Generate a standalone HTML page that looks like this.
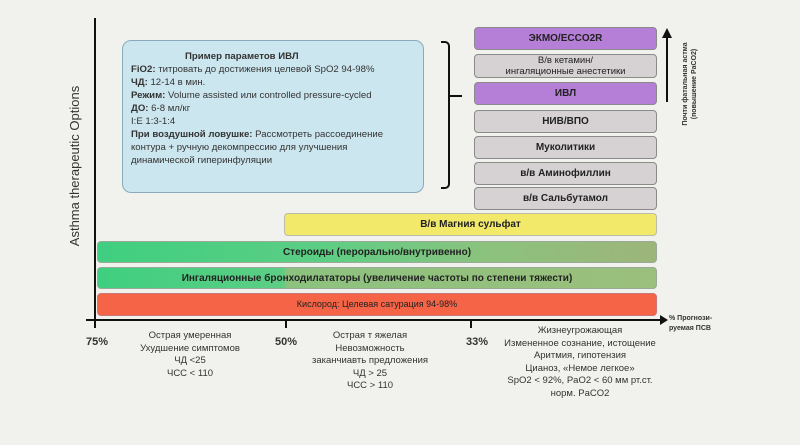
<!DOCTYPE html>
<html><head><meta charset="utf-8"><style>
body{margin:0;width:800px;height:445px;background:#f1f1ed;position:relative;overflow:hidden;font-family:"Liberation Sans","Noto Sans CJK SC",sans-serif;color:#222}
div{position:absolute;box-sizing:border-box}
.b{border:1.5px solid #8a8a8a;border-radius:4px;text-align:center;font-weight:bold;font-size:10px;display:flex;align-items:center;justify-content:center;line-height:11px}
.g{background:#d6d2d4}.p{background:#b57fd8}
.t{font-size:9.5px;text-align:center;line-height:12.5px;color:#333}
</style></head><body>
<div style="left:94px;top:18px;width:2px;height:305px;background:#111"></div>
<div style="left:86px;top:319px;width:576px;height:2px;background:#111"></div>
<div style="left:660px;top:315px;width:0;height:0;border-left:8px solid #111;border-top:5px solid transparent;border-bottom:5px solid transparent"></div>
<div style="left:285px;top:321px;width:2px;height:7px;background:#111"></div>
<div style="left:470px;top:321px;width:2px;height:7px;background:#111"></div>
<div style="left:94px;top:321px;width:2px;height:7px;background:#111"></div>
<div style="left:-30px;top:158px;width:210px;height:16px;transform:rotate(-90deg);font-size:13px;text-align:center;color:#333">Asthma therapeutic Options</div>

<div style="left:122px;top:40px;width:302px;height:153px;background:#cbe6ee;border:1.5px solid #8ab;border-radius:9px;padding:9px 0 0 8px;font-size:9.6px;line-height:13px;color:#333">
<div style="position:static;padding-left:54px;font-weight:bold">Пример параметов ИВЛ</div>
<b>FiO2:</b> титровать до достижения целевой SpO2 94-98%<br>
<b>ЧД:</b> 12-14 в мин.<br>
<b>Режим:</b> Volume assisted или controlled pressure-cycled<br>
<b>ДО:</b> 6-8 мл/кг<br>
I:E 1:3-1:4<br>
<b>При воздушной ловушке:</b> Рассмотреть рассоединение<br>контура + ручную декомпрессию для улучшения<br>динамической гиперинфуляции</div>

<div style="left:441px;top:41px;width:9px;height:148px;border:2px solid #111;border-left:none;border-radius:0 5px 5px 0"></div>
<div style="left:450px;top:95px;width:12px;height:2px;background:#111"></div>

<div class="b p" style="left:474px;top:27px;width:183px;height:23px">ЭКМО/ECCO2R</div>
<div class="b g" style="left:474px;top:54px;width:183px;height:24px;font-weight:normal;font-size:9.5px">В/в кетамин/<br>ингаляционные анестетики</div>
<div class="b p" style="left:474px;top:82px;width:183px;height:23px">ИВЛ</div>
<div class="b g" style="left:474px;top:110px;width:183px;height:23px">НИВ/ВПО</div>
<div class="b g" style="left:474px;top:136px;width:183px;height:23px">Муколитики</div>
<div class="b g" style="left:474px;top:162px;width:183px;height:23px">в/в Аминофиллин</div>
<div class="b g" style="left:474px;top:187px;width:183px;height:23px">в/в Сальбутамол</div>

<div style="left:666px;top:36px;width:2px;height:66px;background:#111"></div>
<div style="left:662px;top:28px;width:0;height:0;border-bottom:10px solid #111;border-left:5px solid transparent;border-right:5px solid transparent"></div>
<div style="left:643px;top:72px;width:100px;height:24px;transform:rotate(-90deg);font-size:7px;line-height:9px;text-align:center;font-weight:bold;color:#333">Почти фатальная астма<br>(повышение PaCO2)</div>

<div class="b" style="left:284px;top:213px;width:373px;height:23px;background:#f2e86a;border-color:#bba">В/в Магния сульфат</div>
<div class="b" style="left:97px;top:241px;width:560px;height:22px;background:linear-gradient(90deg,#3fcf80 0%,#5cce84 40%,#8cc27e 70%,#9db57a 100%);border-color:#9a9">Стероиды (перорально/внутривенно)</div>
<div class="b" style="left:97px;top:267px;width:560px;height:22px;background:linear-gradient(90deg,#3fcf80 0%,#5cce84 33%,#8cc27e 34%,#9bbf7c 100%);border-color:#9a9">Ингаляционные бронходилататоры (увеличение частоты по степени тяжести)</div>
<div class="b" style="left:97px;top:293px;width:560px;height:23px;background:#f56446;border-color:#c77;font-weight:normal;font-size:9px">Кислород: Целевая сатурация 94-98%</div>

<div style="left:86px;top:336px;font-size:11px;font-weight:bold;color:#333">75%</div>
<div style="left:275px;top:336px;font-size:11px;font-weight:bold;color:#333">50%</div>
<div style="left:466px;top:336px;font-size:11px;font-weight:bold;color:#333">33%</div>
<div style="left:669px;top:314px;font-size:7px;font-weight:bold;line-height:10px;color:#333">% Прогнози-<br>руемая ПСВ</div>
<div class="t" style="left:120px;top:330px;width:140px">Острая умеренная<br>Ухудшение симптомов<br>ЧД &lt;25<br>ЧСС &lt; 110</div>
<div class="t" style="left:300px;top:330px;width:140px">Острая т яжелая<br>Невозможность<br>заканчиавть предложения<br>ЧД &gt; 25<br>ЧСС &gt; 110</div>
<div class="t" style="left:500px;top:325px;width:160px">Жизнеугрожающая<br>Измененное сознание, истощение<br>Аритмия, гипотензия<br>Цианоз, «Немое легкое»<br>SpO2 &lt; 92%, PaO2 &lt; 60 мм рт.ст.<br>норм. PaCO2</div>
</body></html>
